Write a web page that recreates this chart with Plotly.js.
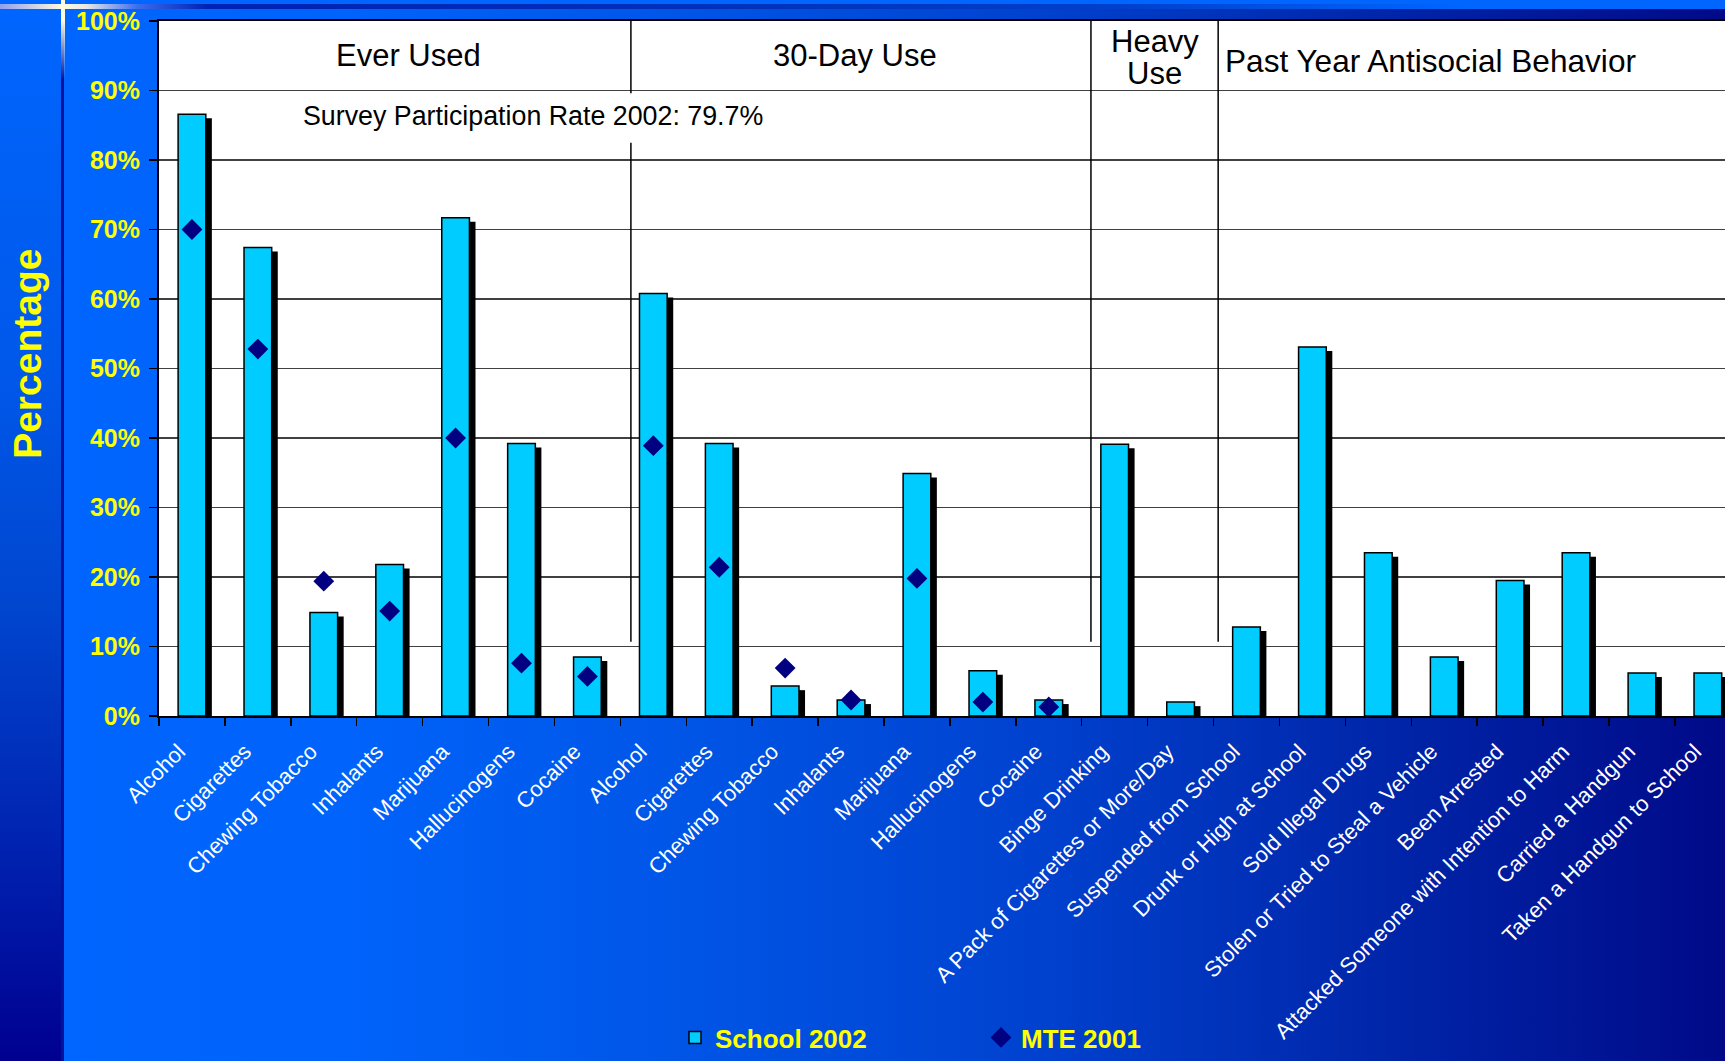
<!DOCTYPE html>
<html>
<head>
<meta charset="utf-8">
<script src="https://cdn.plot.ly/plotly-3.0.1.min.js"></script>
<style>
  html, body { margin: 0; padding: 0; }
  body {
    width: 1725px; height: 1061px; overflow: hidden; position: relative;
    background: linear-gradient(to right, #0066ff 0%, #0063fb 20%, #0055e6 40%, #0042cf 60%, #0026aa 80%, #000a88 100%);
  }
  #strip { position: absolute; left: 0; top: 0; width: 61px; height: 1061px;
    background: linear-gradient(to bottom, #0066ff 0%, #0058ea 35%, #0046cf 57%, #0022b0 80%, #000090 100%);
    border-right: 3px solid #0012a0; }
  #topbar { position: absolute; left: 0; top: 0; width: 1725px; height: 4px; background: #0066ff; }
  #band { position: absolute; left: 0; top: 4px; width: 1725px; height: 5px;
    background: linear-gradient(to right, #8f9ff0 0%, #fffbe0 3.6%, #e8e8e8 5%, #3a6cf0 8%, #0022b4 12%, #0033bb 45%, #0040cc 65%, #0066ff 85%, #0066ff 100%); }
  #vglow { position: absolute; left: 61px; top: 0; width: 4px; height: 80px;
    background: linear-gradient(to bottom, #fffbe0 0%, #fffbe0 25%, rgba(255,251,224,0) 100%); }
  #chart { position: absolute; left: 0; top: 0; width: 1725px; height: 1061px; }
</style>
</head>
<body>
<div id="strip"></div>
<div id="topbar"></div>
<div id="band"></div>
<div id="vglow"></div>
<div id="chart"></div>
<script>
// Category labels (x axis)
const categories = [
  "Alcohol", "Cigarettes", "Chewing Tobacco", "Inhalants", "Marijuana", "Hallucinogens", "Cocaine",
  "Alcohol", "Cigarettes", "Chewing Tobacco", "Inhalants", "Marijuana", "Hallucinogens", "Cocaine",
  "Binge Drinking", "A Pack of Cigarettes or More/Day",
  "Suspended from School", "Drunk or High at School", "Sold Illegal Drugs", "Stolen or Tried to Steal a Vehicle",
  "Been Arrested", "Attacked Someone with Intention to Harm", "Carried a Handgun", "Taken a Handgun to School"
];
// School 2002 (%)
const school2002 = [
  86.6, 67.4, 14.9, 21.8, 71.7, 39.2, 8.5,
  60.8, 39.2, 4.3, 2.3, 34.9, 6.5, 2.3,
  39.1, 2.0,
  12.8, 53.1, 23.5, 8.5, 19.5, 23.5, 6.2, 6.2
];
// MTE 2001 (%)
const mte2001 = [
  70.0, 52.8, 19.4, 15.1, 40.0, 7.6, 5.7,
  38.9, 21.4, 6.9, 2.3, 19.8, 2.0, 1.3,
  null, null,
  null, null, null, null, null, null, null, null
];
// Section headers
const headers = ["Ever Used", "30-Day Use", "Heavy<br>Use", "Past Year Antisocial Behavior"];
const noteText = "Survey Participation Rate 2002: 79.7%";
const seriesNames = ["School 2002", "MTE 2001"];
const yTitle = "Percentage";

const xs = categories.map((c, i) => i);
const FONT = "Liberation Sans, Arial, sans-serif";
const heavyParts = headers[2].split("<br>");

const barW = 0.42;
const shadow = {
  type: "bar", x: xs, y: school2002, base: -0.58,
  width: barW, offset: -barW / 2 + 0.092,
  marker: { color: "#000000", line: { width: 0 } },
  showlegend: false, hoverinfo: "skip"
};
const bars = {
  type: "bar", x: xs, y: school2002, name: seriesNames[0],
  width: barW, offset: -barW / 2,
  marker: { color: "#00ccff", line: { color: "#000000", width: 1.5 } }
};
const diamonds = {
  type: "scatter", mode: "markers", x: xs, y: mte2001, name: seriesNames[1],
  marker: { symbol: "diamond", size: 16, color: "#000080" }
};

const lineStyle = { color: "#000000", width: 1.5 };
const hdrFont = { family: FONT, size: 31, color: "#000000" };
const layout = {
  width: 1725, height: 1061,
  margin: { l: 159, r: 0, t: 21, b: 345, autoexpand: false },
  paper_bgcolor: "rgba(0,0,0,0)",
  plot_bgcolor: "#ffffff",
  barmode: "overlay",
  showlegend: true,
  xaxis: {
    range: [-0.5, 23.26],
    tickmode: "array", tickvals: xs, ticktext: categories,
    ticks: "", tickangle: -45,
    ticklabelstandoff: 12, ticklabelshift: -13,
    tickfont: { family: FONT, size: 22, color: "#ffffff" },
    minor: { tick0: 0.5, dtick: 1, ticks: "outside", ticklen: 8, tickcolor: "#000000", tickwidth: 1.5, showgrid: false },
    showgrid: false, zeroline: false,
    showline: true, linecolor: "#000000", linewidth: 2, mirror: true
  },
  yaxis: {
    range: [0, 100], tickmode: "linear", tick0: 0, dtick: 10, ticksuffix: "%",
    ticks: "outside", ticklen: 8, tickcolor: "#000000", tickwidth: 1.5,
    ticklabelstandoff: 4,
    tickfont: { family: FONT, size: 25, color: "#ffff00", weight: "bold" },
    showgrid: true, gridcolor: "#404040", gridwidth: 1.3,
    zeroline: false, showline: true, linecolor: "#000000", linewidth: 2
  },
  legend: {
    orientation: "h", x: 0.3295, xanchor: "left", y: -0.4288, yanchor: "top",
    font: { family: FONT, size: 26, color: "#ffff00", weight: "bold" },
    bgcolor: "rgba(0,0,0,0)", entrywidth: 261, entrywidthmode: "pixels"
  },
  shapes: [
    { type: "line", xref: "x", yref: "y", x0: 6.66, x1: 6.66, y0: 89.6, y1: 100, line: lineStyle },
    { type: "line", xref: "x", yref: "y", x0: 6.66, x1: 6.66, y0: 10.7, y1: 82.5, line: lineStyle },
    { type: "line", xref: "x", yref: "y", x0: 13.64, x1: 13.64, y0: 10.7, y1: 100, line: lineStyle },
    { type: "line", xref: "x", yref: "y", x0: 15.57, x1: 15.57, y0: 10.7, y1: 100, line: lineStyle }
  ],
  annotations: [
    { text: headers[0], xref: "x", yref: "y", x: 3.29, y: 95.1, showarrow: false, font: hdrFont },
    { text: headers[1], xref: "x", yref: "y", x: 10.06, y: 95.1, showarrow: false, font: hdrFont },
    { text: heavyParts[0], xref: "x", yref: "y", x: 14.61, y: 97.1, showarrow: false, font: hdrFont },
    { text: heavyParts[1], xref: "x", yref: "y", x: 14.61, y: 92.5, showarrow: false, font: hdrFont },
    { text: headers[3], xref: "x", yref: "y", x: 18.79, y: 94.3, showarrow: false,
      font: { family: FONT, size: 31.6, color: "#000000" } },
    { text: noteText, xref: "x", yref: "y", x: 5.18, y: 86.4, showarrow: false,
      font: { family: FONT, size: 26.8, color: "#000000" } },
    { text: yTitle, xref: "paper", yref: "paper", x: -0.0837, y: 0.521, textangle: -90,
      xanchor: "center", yanchor: "middle", showarrow: false,
      font: { family: FONT, size: 39, color: "#ffff00", weight: "bold" } }
  ]
};

Plotly.newPlot("chart", [shadow, bars, diamonds], layout, { displayModeBar: false, staticPlot: true });
</script>
</body>
</html>
